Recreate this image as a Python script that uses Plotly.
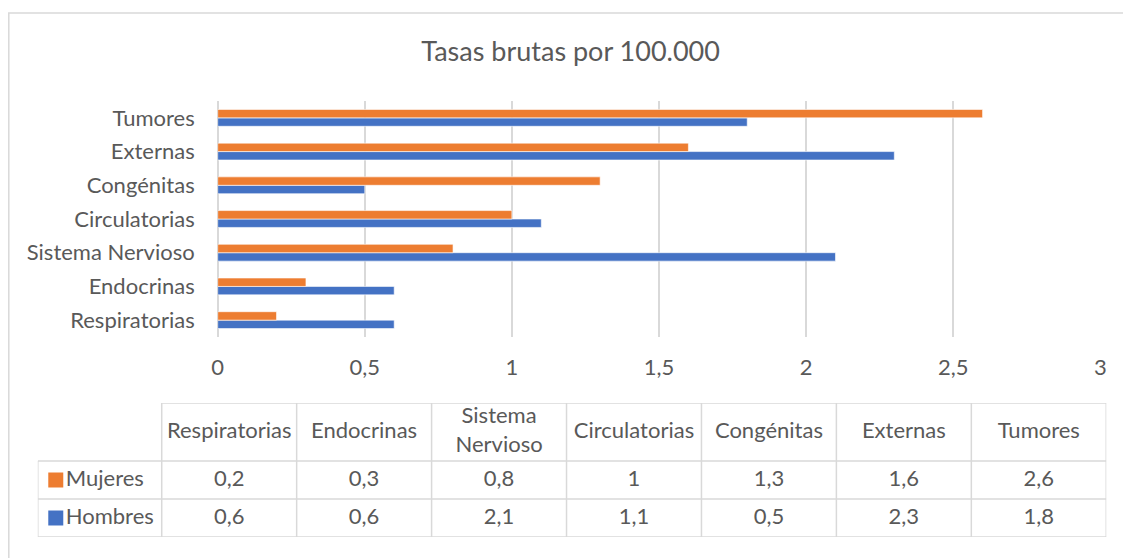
import plotly.graph_objects as go

# categories bottom -> top (same order as table columns)
categorias = ["Respiratorias", "Endocrinas", "Sistema Nervioso", "Circulatorias",
              "Congénitas", "Externas", "Tumores"]
cabecera_tabla = ["Respiratorias", "Endocrinas", "Sistema<br>Nervioso", "Circulatorias",
                  "Congénitas", "Externas", "Tumores"]
mujeres = [0.2, 0.3, 0.8, 1.0, 1.3, 1.6, 2.6]
hombres = [0.6, 0.6, 2.1, 1.1, 0.5, 2.3, 1.8]
x_ticks = [0, 0.5, 1, 1.5, 2, 2.5, 3]
x_labels = ["0", "0,5", "1", "1,5", "2", "2,5", "3"]

NARANJA = "#ED7D31"
AZUL = "#4472C4"
GRIS = "#595959"
LINEA = "#d9d9d9"
FUENTE = "Lato, 'Open Sans', sans-serif"
TAM = 22

W, H = 1123, 558


def px(x):
    # the snapshot comes out slightly narrower than the page, correct for it
    return (x - 6.2) / 0.9898 / W


def py(y):
    return 1 - y / H


def fmt(v):
    return ("%g" % v).replace(".", ",")


fig = go.Figure()
fig.add_trace(go.Bar(y=categorias, x=hombres, name="Hombres", orientation="h",
                     marker=dict(color=AZUL, line=dict(color="white", width=0.6))))
fig.add_trace(go.Bar(y=categorias, x=mujeres, name="Mujeres", orientation="h",
                     marker=dict(color=NARANJA, line=dict(color="white", width=0.6))))

# ---- data table, drawn on its own hidden axes ----
# x2: one unit per data column, the legend column is 124/135 wide
# y2: one unit per data row (38px), header row is 58px
leg_w = 124 / 135
head_h = 58 / 38
ncol = len(cabecera_tabla)
col_x = [i + 0.5 for i in range(ncol)]
txt = dict(family=FUENTE, size=TAM, color=GRIS)

fig.add_trace(go.Scatter(x=col_x, y=[2 + head_h / 2] * ncol, text=cabecera_tabla,
                         mode="text", xaxis="x2", yaxis="y2", cliponaxis=False,
                         textfont=txt, hoverinfo="skip"))
fig.add_trace(go.Scatter(x=col_x, y=[1.5] * ncol, text=[fmt(v) for v in mujeres],
                         mode="text", xaxis="x2", yaxis="y2", cliponaxis=False,
                         textfont=txt, hoverinfo="skip"))
fig.add_trace(go.Scatter(x=col_x, y=[0.5] * ncol, text=[fmt(v) for v in hombres],
                         mode="text", xaxis="x2", yaxis="y2", cliponaxis=False,
                         textfont=txt, hoverinfo="skip"))
# legend keys + names in the left column
fig.add_trace(go.Scatter(x=[-leg_w + 18 / 135] * 2, y=[1.5, 0.5],
                         mode="markers", xaxis="x2", yaxis="y2", cliponaxis=False,
                         marker=dict(symbol="square", size=15, color=[NARANJA, AZUL]),
                         hoverinfo="skip"))
fig.add_trace(go.Scatter(x=[-leg_w + 28 / 135] * 2, y=[1.5, 0.5], text=["Mujeres", "Hombres"],
                         mode="text", textposition="middle right",
                         xaxis="x2", yaxis="y2", cliponaxis=False,
                         textfont=txt, hoverinfo="skip"))

tabla_lineas = []
top = 2 + head_h
for i in range(ncol + 1):
    tabla_lineas.append(dict(x0=i, x1=i, y0=0, y1=top))
tabla_lineas.append(dict(x0=-leg_w, x1=-leg_w, y0=0, y1=2))
for j in (0, 1, 2):
    tabla_lineas.append(dict(x0=-leg_w, x1=ncol, y0=j, y1=j))
tabla_lineas.append(dict(x0=0, x1=ncol, y0=top, y1=top))
shapes = [dict(type="line", xref="x2", yref="y2", line=dict(color=LINEA, width=1.5), **s)
          for s in tabla_lineas]
# outer chart border (right and bottom edges fall outside the picture)
shapes.append(dict(type="rect", xref="paper", yref="paper",
                   x0=px(9), x1=1.05, y0=-0.05, y1=py(13),
                   line=dict(color=LINEA, width=1.5), layer="below"))

fig.update_layout(
    width=W, height=H,
    margin=dict(l=0, r=0, t=0, b=0),
    paper_bgcolor="white", plot_bgcolor="white",
    showlegend=False,
    barmode="group", bargap=0.5, bargroupgap=0,
    font=dict(family=FUENTE, size=TAM, color=GRIS),
    title=dict(text="Tasas brutas por 100.000", x=px(571), xanchor="center",
               y=py(52), yanchor="middle",
               font=dict(family=FUENTE, size=27, color=GRIS)),
    xaxis=dict(domain=[px(218), px(1101)], range=[0, 3],
               tickvals=x_ticks, ticktext=x_labels,
               showgrid=True, gridcolor=LINEA, gridwidth=1.5,
               zeroline=True, zerolinecolor=LINEA, zerolinewidth=1.5,
               showline=False, ticks="", ticklabelstandoff=15,
               tickfont=dict(size=TAM, color=GRIS), fixedrange=True),
    yaxis=dict(domain=[py(337), py(101)],
               categoryorder="array", categoryarray=categorias,
               showgrid=False, zeroline=False, showline=False, ticks="",
               ticklabelstandoff=22,
               tickfont=dict(size=TAM, color=GRIS), fixedrange=True),
    xaxis2=dict(domain=[px(38), px(1107)], range=[-leg_w, ncol], anchor="y2",
                visible=False, fixedrange=True),
    yaxis2=dict(domain=[py(537), py(403)], range=[0, top], anchor="x2",
                visible=False, fixedrange=True),
    shapes=shapes,
)

# drop the default page margin so the 1123x558 figure fills the window exactly
fig.write_html("out.html", config=dict(displayModeBar=False),
               post_script="document.body.style.margin='0';"
                           "document.body.style.overflow='hidden';")
